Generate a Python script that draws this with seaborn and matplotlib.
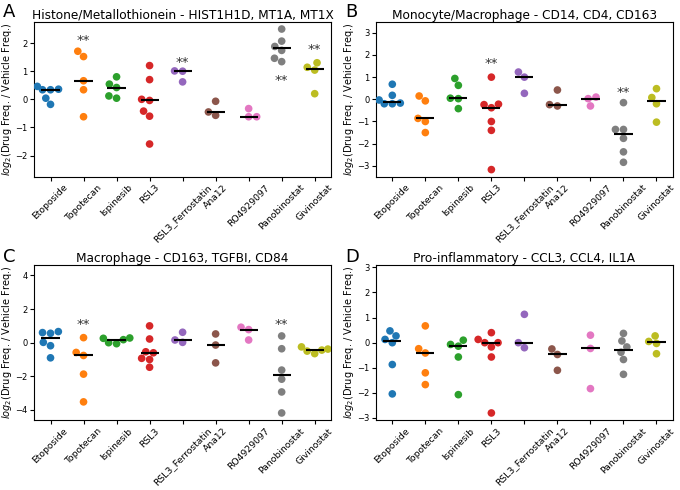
import numpy as np
import pandas as pd
import matplotlib
matplotlib.use('Agg')
import matplotlib.pyplot as plt
import seaborn as sns

drugs = ['Etoposide', 'Topotecan', 'Ispinesib', 'RSL3', 'RSL3_Ferrostatin',
         'Ana12', 'RO4929097', 'Panobinostat', 'Givinostat']

# log2 fold changes per drug (one list per drug, same order as drugs)
vals_A = [[0.46, 0.36, 0.34, 0.34, 0.04, -0.18],
          [1.71, 1.52, 0.66, 0.34, -0.62],
          [0.80, 0.54, 0.42, 0.12, 0.04],
          [1.20, 0.70, 0.00, -0.04, -0.42, -0.60, -1.59],
          [1.00, 1.01, 0.62],
          [-0.07, -0.45, -0.57],
          [-0.33, -0.62, -0.62],
          [2.50, 2.07, 1.88, 1.74, 1.46, 1.34],
          [1.30, 1.14, 1.04, 0.20]]
vals_B = [[0.68, 0.18, -0.03, -0.20, -0.20, -0.17],
          [0.15, -0.07, -0.86, -1.00, -1.50],
          [0.94, 0.63, 0.05, 0.03, -0.42],
          [1.00, -0.24, -0.22, -0.38, -1.00, -1.40, -3.17],
          [1.23, 1.00, 0.27],
          [0.42, -0.24, -0.30],
          [0.10, 0.03, -0.30],
          [-0.15, -1.36, -1.36, -1.76, -2.37, -2.84],
          [0.48, 0.08, -0.20, -1.03]]
vals_C = [[0.60, 0.56, 0.66, 0.02, -0.18, -0.90],
          [0.30, -0.58, -0.76, -1.87, -3.52],
          [0.28, 0.26, 0.18, 0.00, -0.06],
          [1.00, 0.22, -0.54, -0.60, -0.93, -1.00, -1.46],
          [0.62, 0.16, 0.02],
          [0.52, -0.14, -1.20],
          [0.92, 0.78, 0.16],
          [0.40, -0.36, -1.63, -2.17, -2.93, -4.18],
          [-0.25, -0.38, -0.44, -0.50, -0.65]]
vals_D = [[0.47, 0.27, 0.13, 0.00, -0.87, -2.04],
          [0.67, -0.24, -0.41, -1.20, -1.67],
          [0.10, -0.07, -0.14, -0.57, -2.07],
          [0.40, 0.13, 0.00, 0.00, -0.17, -0.57, -2.80],
          [1.13, 0.00, -0.20],
          [-0.25, -0.47, -1.10],
          [0.30, -0.23, -1.83],
          [0.37, 0.07, -0.17, -0.38, -0.67, -1.26],
          [0.27, 0.05, -0.03, -0.44]]

titles = ['Histone/Metallothionein - HIST1H1D, MT1A, MT1X',
          'Monocyte/Macrophage - CD14, CD4, CD163',
          'Macrophage - CD163, TGFBI, CD84',
          'Pro-inflammatory - CCL3, CCL4, IL1A']
letters = ['A', 'B', 'C', 'D']

# significance marks: drug -> y position of the "**"
stars_A = {'Topotecan': 2.1, 'RSL3_Ferrostatin': 1.32, 'Panobinostat': 0.66, 'Givinostat': 1.77}
stars_B = {'RSL3': 1.6, 'Panobinostat': 0.3}
stars_C = {'Topotecan': 1.1, 'Panobinostat': 1.1}
stars_D = {}

panels = [(vals_A, stars_A), (vals_B, stars_B), (vals_C, stars_C), (vals_D, stars_D)]

pal = sns.color_palette('tab10', len(drugs))

fig, axes = plt.subplots(2, 2, figsize=(6.8, 4.9), dpi=100)
fig.subplots_adjust(left=34/680, right=673/680, top=1-22/490, bottom=1-420/490,
                    wspace=0.15, hspace=0.574)

for i, ax in enumerate(axes.flat):
    vals, stars = panels[i]
    df = pd.DataFrame({'drug': [d for d, v in zip(drugs, vals) for _ in v],
                       'val': [x for v in vals for x in v]})

    sns.swarmplot(data=df, x='drug', y='val', hue='drug', order=drugs,
                  hue_order=drugs, palette=pal, size=5.5, legend=False, ax=ax)
    sns.boxplot(data=df, x='drug', y='val', order=drugs, ax=ax, width=0.55,
                showbox=False, showcaps=False, showfliers=False,
                whiskerprops={'visible': False},
                medianprops={'color': 'k', 'lw': 1.5, 'zorder': 10})

    for d, y in stars.items():
        ax.text(drugs.index(d), y, '**', ha='center', va='center',
                fontsize=9.5, color='#333333')

    lim = 1.1 * df['val'].abs().max()
    ax.set_ylim(-lim, lim)
    ax.set_xlim(-0.5, len(drugs) - 0.5)
    ax.set_xlabel('')
    ax.set_ylabel(r'$log_2$(Drug Freq. / Vehicle Freq.)', fontsize=7, labelpad=1)
    ax.set_title(titles[i], fontsize=8.7, pad=2)
    ax.tick_params(length=3, pad=1.5)
    ax.tick_params(axis='x', labelrotation=45, labelsize=6.7)
    ax.tick_params(axis='y', labelsize=6)

fig.text(0.004, 1 - 17/490, 'A', fontsize=13)
fig.text(0.507, 1 - 17/490, 'B', fontsize=13)
fig.text(0.004, 1 - 262/490, 'C', fontsize=13)
fig.text(0.507, 1 - 262/490, 'D', fontsize=13)

plt.savefig('out.png', dpi=100)
